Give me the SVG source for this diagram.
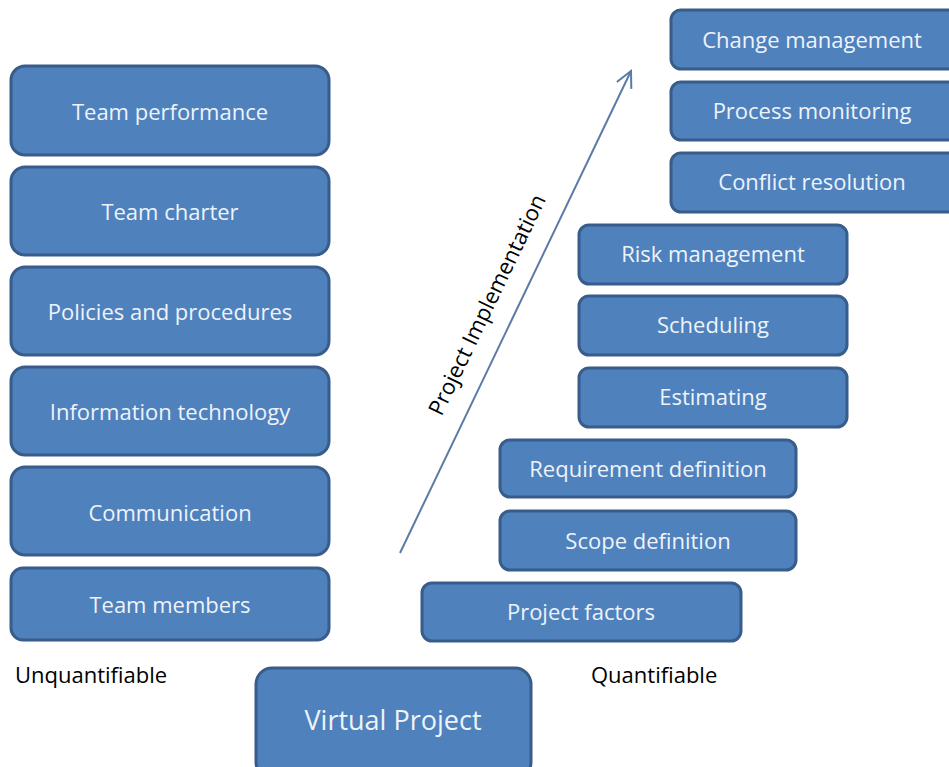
<svg xmlns="http://www.w3.org/2000/svg" width="949" height="767" viewBox="0 0 949 767">
  <defs>
    <style>
      .box rect { fill: #4f81bd; stroke: #385d8a; stroke-width: 3; }
      .box text { fill: #eef3fa; font-family: "Open Sans", "Liberation Sans", Arial, sans-serif; font-size: 22px; text-anchor: middle; }
      .plain { fill: #000; font-family: "Open Sans", "Liberation Sans", Arial, sans-serif; font-size: 22px; }
      .conn { stroke: #5b7aa6; stroke-width: 2; fill: none; }
    </style>
    <marker id="openHead" viewBox="0 0 20 20" refX="18" refY="10" markerWidth="20" markerHeight="20" markerUnits="userSpaceOnUse" orient="auto">
      <path d="M2,2 L18,10 L2,18" fill="none" stroke="#5b7aa6" stroke-width="2"/>
    </marker>
  </defs>
  <rect width="949" height="767" fill="#fff"/>

  <!-- Unquantifiable column -->
  <g id="team-performance" class="box"><rect x="11" y="66" width="318" height="89" rx="14"/><text x="170" y="120">Team performance</text></g>
  <g id="team-charter" class="box"><rect x="11" y="167" width="318" height="88" rx="14"/><text x="170" y="220">Team charter</text></g>
  <g id="policies" class="box"><rect x="11" y="267" width="318" height="88" rx="14"/><text x="170" y="320">Policies and procedures</text></g>
  <g id="information-technology" class="box"><rect x="11" y="367" width="318" height="88" rx="14"/><text x="170" y="420">Information technology</text></g>
  <g id="communication" class="box"><rect x="11" y="467" width="318" height="88" rx="14"/><text x="170" y="521">Communication</text></g>
  <g id="team-members" class="box"><rect x="11" y="568" width="318" height="72" rx="12"/><text x="170" y="613">Team members</text></g>

  <!-- Quantifiable staircase -->
  <g id="change-management" class="box"><rect x="671" y="10" width="290" height="59" rx="10"/><text x="812" y="48">Change management</text></g>
  <g id="process-monitoring" class="box"><rect x="671" y="82" width="290" height="58" rx="10"/><text x="812" y="119">Process monitoring</text></g>
  <g id="conflict-resolution" class="box"><rect x="671" y="153" width="290" height="59" rx="10"/><text x="812" y="190">Conflict resolution</text></g>
  <g id="risk-management" class="box"><rect x="579" y="225" width="268" height="59" rx="10"/><text x="713" y="262">Risk management</text></g>
  <g id="scheduling" class="box"><rect x="579" y="296" width="268" height="59" rx="10"/><text x="713" y="333">Scheduling</text></g>
  <g id="estimating" class="box"><rect x="579" y="368" width="268" height="59" rx="10"/><text x="713" y="405">Estimating</text></g>
  <g id="requirement-definition" class="box"><rect x="500" y="440" width="296" height="57" rx="10"/><text x="648" y="477">Requirement definition</text></g>
  <g id="scope-definition" class="box"><rect x="500" y="511" width="296" height="59" rx="10"/><text x="648" y="549">Scope definition</text></g>
  <g id="project-factors" class="box"><rect x="422" y="583" width="319" height="58" rx="10"/><text x="581" y="620">Project factors</text></g>

  <!-- Base -->
  <g id="virtual-project" class="box"><rect x="256" y="668" width="275" height="110" rx="16"/><text x="393" y="730" style="font-size:27px">Virtual Project</text></g>

  <text class="plain" x="15" y="683">Unquantifiable</text>
  <text class="plain" x="591" y="683">Quantifiable</text>

  <g id="connectors">
    <line class="conn" x1="400" y1="553" x2="631" y2="71" marker-end="url(#openHead)"/>
    <text transform="translate(494,308) rotate(-64.3)" style="fill:#000;font-family:'Open Sans','Liberation Sans',Arial,sans-serif;font-size:22px;text-anchor:middle">Project Implementation</text>
  </g>
</svg>
